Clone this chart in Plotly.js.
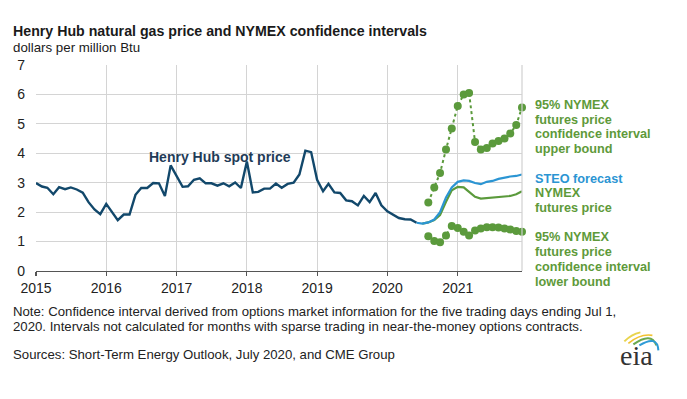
<!DOCTYPE html>
<html>
<head>
<meta charset="utf-8">
<script src="https://cdn.plot.ly/plotly-3.0.1.min.js"></script>
<style>
html,body{margin:0;padding:0;background:#fff;}
#chart{width:687px;height:399px;}
</style>
</head>
<body>
<div id="chart"></div>
<script>
// ---- Data ----
// Henry Hub spot price, monthly Jan 2015 - Jun 2020 ($/MMBtu)
const spotStart = '2015-01';
const spotPrice = [
  2.99, 2.87, 2.83, 2.61, 2.85, 2.78, 2.84, 2.77, 2.66, 2.34, 2.09, 1.93,
  2.28, 1.99, 1.73, 1.92, 1.92, 2.59, 2.82, 2.82, 2.99, 2.98, 2.55, 3.59,
  3.25, 2.86, 2.88, 3.10, 3.15, 2.98, 2.98, 2.90, 2.98, 2.88, 3.01, 2.82,
  3.72, 2.67, 2.69, 2.80, 2.80, 2.97, 2.83, 2.96, 3.00, 3.28, 4.09, 4.04,
  3.10, 2.71, 2.96, 2.67, 2.65, 2.40, 2.37, 2.23, 2.55, 2.34, 2.65, 2.23,
  2.03, 1.92, 1.80, 1.76, 1.75, 1.64
];
// STEO forecast, Jun 2020 - Dec 2021
const steoStart = '2020-06';
const steoForecast = [
  1.64, 1.61, 1.65, 1.75, 2.00, 2.50, 2.84, 3.03, 3.08, 3.06, 2.99, 2.95,
  3.03, 3.06, 3.13, 3.18, 3.21, 3.23, 3.28
];
// NYMEX futures price, Jul 2020 - Dec 2021
const nymexStart = '2020-07';
const nymexFutures = [
  1.61, 1.65, 1.73, 1.90, 2.35, 2.74, 2.86, 2.84, 2.69, 2.52, 2.46, 2.48,
  2.51, 2.53, 2.53, 2.55, 2.61, 2.71
];
// 95% confidence interval bounds, Aug 2020 - Dec 2021
const ciStart = '2020-08';
const ciUpper = [
  2.33, 2.84, 3.33, 4.13, 4.84, 5.61, 6.00, 6.05, 4.38, 4.13, 4.18, 4.33,
  4.42, 4.50, 4.67, 4.96, 5.56
];
const ciLower = [
  1.18, 1.02, 0.98, 1.21, 1.53, 1.46, 1.33, 1.21, 1.38, 1.44, 1.49, 1.49,
  1.48, 1.44, 1.41, 1.36, 1.33
];
const yearTicks = ['2015','2016','2017','2018','2019','2020','2021'];

// month label builder for the x axis categories
function months(start, n) {
  let [y, m] = start.split('-').map(Number);
  const out = [];
  for (let i = 0; i < n; i++) {
    out.push(y + '-' + String(m).padStart(2, '0') + '-01');
    m++; if (m > 12) { m = 1; y++; }
  }
  return out;
}

// ---- Styling ----
const W = 687, H = 399;
const M = {l: 36, r: 165.3, t: 65, b: 128.3};
const PW = W - M.l - M.r, PH = H - M.t - M.b;
const px = x => (x - M.l) / PW;
const py = y => (H - M.b - y) / PH;

const FONT = 'Liberation Sans, Arial, sans-serif';
const cSpot = '#12486b';
const cSteo = '#2b95d3';
const cGreen = '#5b9a3c';
const cLabelGreen = '#5e9a3a';

const traces = [
  {
    x: months(spotStart, spotPrice.length), y: spotPrice,
    type: 'scatter', mode: 'lines',
    line: {color: cSpot, width: 2.4}, hoverinfo: 'skip'
  },
  {
    x: months(nymexStart, nymexFutures.length), y: nymexFutures,
    type: 'scatter', mode: 'lines',
    line: {color: cGreen, width: 2.2}, hoverinfo: 'skip'
  },
  {
    x: months(steoStart, steoForecast.length), y: steoForecast,
    type: 'scatter', mode: 'lines',
    line: {color: cSteo, width: 2.2}, hoverinfo: 'skip'
  },
  {
    x: months(ciStart, ciUpper.length), y: ciUpper,
    type: 'scatter', mode: 'lines+markers', cliponaxis: false,
    line: {color: cGreen, width: 2, dash: 'dot'},
    marker: {color: cGreen, size: 8}, hoverinfo: 'skip'
  },
  {
    x: months(ciStart, ciLower.length), y: ciLower,
    type: 'scatter', mode: 'lines+markers', cliponaxis: false,
    line: {color: cGreen, width: 2, dash: 'dot'},
    marker: {color: cGreen, size: 8}, hoverinfo: 'skip'
  }
];

function ann(text, x, y, opts) {
  return Object.assign({
    text: text, xref: 'paper', yref: 'paper', x: px(x), y: py(y),
    xanchor: 'left', yanchor: 'middle', showarrow: false,
    font: {family: FONT, size: 12.7, color: cLabelGreen}
  }, opts || {});
}
const bold = s => '<b>' + s + '</b>';

const annotations = [
  ann(bold('Henry Hub natural gas price and NYMEX confidence intervals'), 11, 31,
      {font: {family: FONT, size: 14.2, color: '#1a1a1a'}}),
  ann('dollars per million Btu', 11, 47.5, {font: {family: FONT, size: 13.3, color: '#1a1a1a'}}),
  ann(bold('Henry Hub spot price'), 147, 157, {font: {family: FONT, size: 14, color: '#1f3b57'}}),

  ann(bold('95% NYMEX'), 533, 105),
  ann(bold('futures price'), 533, 119.5),
  ann(bold('confidence interval'), 533, 134),
  ann(bold('upper bound'), 533, 148.5),

  ann(bold('STEO forecast'), 533, 178.5, {font: {family: FONT, size: 12.7, color: cSteo}}),
  ann(bold('NYMEX'), 533, 193),
  ann(bold('futures price'), 533, 207.5),

  ann(bold('95% NYMEX'), 533, 237),
  ann(bold('futures price'), 533, 252),
  ann(bold('confidence interval'), 533, 266.5),
  ann(bold('lower bound'), 533, 281.5),

  ann('Note: Confidence interval derived from options market information for the five trading days ending Jul 1,', 11, 311.5,
      {font: {family: FONT, size: 13.2, color: '#222'}}),
  ann('2020. Intervals not calculated for months with sparse trading in near-the-money options contracts.', 11, 326,
      {font: {family: FONT, size: 13.2, color: '#222'}}),
  ann('Sources: Short-Term Energy Outlook, July 2020, and CME Group', 11, 354,
      {font: {family: FONT, size: 13.2, color: '#222'}}),
  // eia logo wordmark
  ann('eia', 636, 355, {xanchor: 'center', font: {family: 'Liberation Serif, DejaVu Serif, serif', size: 28, color: '#333'}})
];

function arcPath(pts) {
  // pts in pixels: [x0,y0, cx,cy, x1,y1]
  return 'M ' + px(pts[0]) + ',' + py(pts[1]) + ' Q ' + px(pts[2]) + ',' + py(pts[3]) + ' ' + px(pts[4]) + ',' + py(pts[5]);
}

const shapes = [
  // right border of the plot area
  {type: 'line', xref: 'paper', yref: 'paper', x0: 1, x1: 1, y0: 0, y1: 1,
   line: {color: '#d0d0d0', width: 1.2}},
  // eia swooshes
  {type: 'path', xref: 'paper', yref: 'paper', path: arcPath([624, 341, 631, 334, 640, 332]), line: {color: '#e8d44d', width: 2}},
  {type: 'path', xref: 'paper', yref: 'paper', path: arcPath([628, 343, 640, 333, 652, 335]), line: {color: '#f2c230', width: 1.6}},
  {type: 'path', xref: 'paper', yref: 'paper', path: arcPath([633, 344, 651, 331, 656, 345]), line: {color: '#6aa84f', width: 2}},
  {type: 'path', xref: 'paper', yref: 'paper', path: arcPath([639, 345, 657, 334, 658, 350]), line: {color: '#2e9bd6', width: 2}}
];

const layout = {
  width: W, height: H,
  margin: M,
  paper_bgcolor: '#fff', plot_bgcolor: '#fff',
  showlegend: false,
  font: {family: FONT, size: 14, color: '#222'},
  xaxis: {
    type: 'date',
    range: ['2015-01-01', '2021-12-01'],
    tickvals: yearTicks.map(y => y + '-01-01'),
    ticktext: yearTicks,
    showgrid: true, gridcolor: '#d4d4d4', gridwidth: 1.2,
    showline: true, linecolor: '#555', linewidth: 1.3,
    ticks: 'outside', ticklen: 4, tickcolor: '#555', tickwidth: 1.2,
    tickfont: {family: FONT, size: 14, color: '#222'},
    zeroline: false, fixedrange: true
  },
  yaxis: {
    range: [0, 7],
    tickvals: [0, 1, 2, 3, 4, 5, 6, 7],
    showgrid: true, gridcolor: '#d4d4d4', gridwidth: 1.2,
    showline: false, zeroline: false,
    ticks: '', ticklabelstandoff: 10,
    tickfont: {family: FONT, size: 14, color: '#222'},
    fixedrange: true
  },
  annotations: annotations,
  shapes: shapes
};

Plotly.newPlot('chart', traces, layout, {displayModeBar: false, staticPlot: true});
</script>
</body>
</html>
